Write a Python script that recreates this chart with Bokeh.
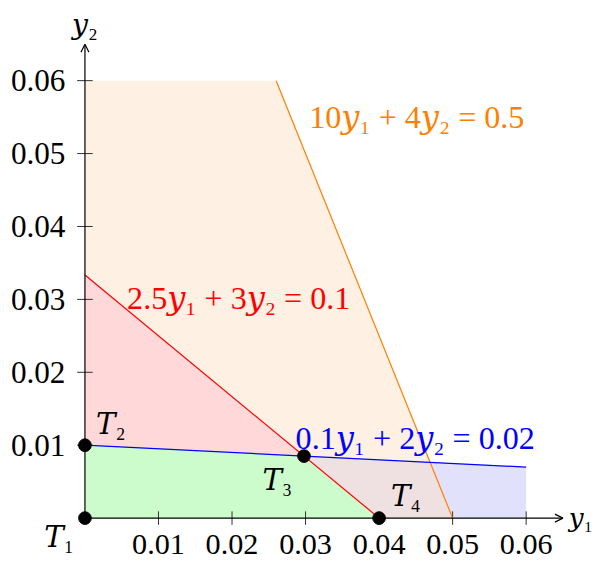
import numpy as np
from bokeh.plotting import figure
from bokeh.models import Arrow, OpenHead
from bokeh.core.properties import value
from bokeh.embed import file_html
from bokeh.resources import INLINE

# ---- data ----
coef_y1 = [10, 2.5, 0.1]
coef_y2 = [4, 3, 2]
rhs = [0.5, 0.1, 0.02]
line_colors = ["#ff8000", "#ff0000", "#0000ff"]
eq_labels = ["10𝑦₁ + 4𝑦₂ = 0.5", "2.5𝑦₁ + 3𝑦₂ = 0.1", "0.1𝑦₁ + 2𝑦₂ = 0.02"]
y1_max = 0.06
y2_max = 0.06
tick_values = [0.01, 0.02, 0.03, 0.04, 0.05, 0.06]
tick_labels = ["0.01", "0.02", "0.03", "0.04", "0.05", "0.06"]
point_names = ["𝑇₁", "𝑇₂", "𝑇₃", "𝑇₄"]
axis_names = ["𝑦₁", "𝑦₂"]
axis_end = 0.065


def y2_at(i, x):
    return (rhs[i] - coef_y1[i] * x) / coef_y2[i]


def y1_at(i, y):
    return (rhs[i] - coef_y2[i] * y) / coef_y1[i]


def meet(i, j):
    A = np.array([[coef_y1[i], coef_y2[i]], [coef_y1[j], coef_y2[j]]])
    return np.linalg.solve(A, np.array([rhs[i], rhs[j]]))


T3 = meet(1, 2)
Q = meet(0, 2)

# reference-pixel geometry (reference image 615 x 579)
PX = 1.0 / 7550.0
X0 = 86.7
Y0 = 536.0
REF_W, REF_H = 615, 583
W, H = 599, 563
S = W / REF_W
x_range = ((0 - X0) * PX, (REF_W - X0) * PX)
y_range = ((Y0 - REF_H) * PX, (Y0 - 0) * PX)

p = figure(width=W, height=H, x_range=x_range, y_range=y_range,
           output_backend="svg", toolbar_location=None, min_border=0,
           x_axis_location=None, y_axis_location=None)
p.grid.visible = False
p.outline_line_color = None
p.background_fill_color = "white"

FONT = value("'Liberation Serif', 'DejaVu Serif', serif")


def fs(px):
    return f"{px * S:.1f}px"


# ---- fills ----
p.patch([0, y1_at(0, 0), y1_at(0, y2_max), 0], [0, 0, y2_max, y2_max],
        fill_color="#fef0e2", line_color=None)
p.patch([0, y1_at(1, 0), 0], [0, 0, y2_at(1, 0)],
        fill_color="#ffd9d9", line_color=None)
p.patch([0, 0, T3[0], y1_at(1, 0)], [0, y2_at(2, 0), T3[1], 0],
        fill_color="#ccfccc", line_color=None)
p.patch([T3[0], y1_at(1, 0), y1_at(0, 0), Q[0]], [T3[1], 0, 0, Q[1]],
        fill_color="#efe1e1", line_color=None)
p.patch([y1_at(0, 0), y1_max, y1_max, Q[0]], [0, 0, y2_at(2, y1_max), Q[1]],
        fill_color="#e1e1fb", line_color=None)

# ---- axes ----
n = len(tick_values)
p.segment(x0=tick_values, y0=[-7 * PX] * n, x1=tick_values, y1=[7 * PX] * n,
          line_color="#333333", line_width=1)
p.segment(x0=[-8 * PX] * n, y0=tick_values, x1=[8 * PX] * n, y1=tick_values,
          line_color="#333333", line_width=1)
p.add_layout(Arrow(x_start=0, y_start=0, x_end=axis_end, y_end=0,
                   line_color="black", line_width=1.2,
                   end=OpenHead(size=8, line_width=1.2, line_color="black")))
p.add_layout(Arrow(x_start=0, y_start=0, x_end=0, y_end=axis_end,
                   line_color="black", line_width=1.2,
                   end=OpenHead(size=8, line_width=1.2, line_color="black")))

p.text(x=tick_values, y=[-27.5 * PX] * n, text=tick_labels, text_font=FONT,
       text_font_size=fs(31), text_align="center", text_baseline="middle",
       text_color="black")
p.text(x=[-20 * PX] * n, y=tick_values, text=tick_labels, text_font=FONT,
       text_font_size=fs(32), text_align="right", text_baseline="middle",
       text_color="black")
p.text(x=[axis_end + 6 * PX], y=[0], text=axis_names[:1],
       text_font=FONT, text_font_size=fs(27), text_align="left",
       text_baseline="middle", text_color="black")
p.text(x=[0], y=[axis_end + 20 * PX], text=axis_names[1:],
       text_font=FONT, text_font_size=fs(29), text_align="center",
       text_baseline="middle", text_color="black")

# ---- constraint lines ----
p.line([y1_at(0, y2_max), y1_at(0, 0)], [y2_max, 0], line_color=line_colors[0], line_width=1.2)
p.line([0, y1_at(1, 0)], [y2_at(1, 0), 0], line_color=line_colors[1], line_width=1.2)
p.line([0, y1_max], [y2_at(2, 0), y2_at(2, y1_max)], line_color=line_colors[2], line_width=1.2)

# ---- equation labels ----
eq_x = [(317 - X0) * PX, (130 - X0) * PX, (303 - X0) * PX]
eq_y = [(Y0 - 121) * PX, (Y0 - 308) * PX, (Y0 - 453) * PX]
p.text(x=eq_x, y=eq_y, text=eq_labels, text_font=FONT, text_font_size=fs(33),
       text_align="left", text_baseline="middle", text_color=line_colors)

# ---- vertices ----
pts_x = [0, 0, T3[0], y1_at(1, 0)]
pts_y = [0, y2_at(2, 0), T3[1], 0]
p.scatter(pts_x, pts_y, size=13 * S, fill_color="black", line_color="black")
lab_x = [(45 - X0) * PX, (98 - X0) * PX, (269 - X0) * PX, (401 - X0) * PX]
lab_y = [(Y0 - 556) * PX, (Y0 - 439) * PX, (Y0 - 497) * PX, (Y0 - 513) * PX]
p.text(x=lab_x, y=lab_y, text=point_names, text_font=FONT, text_font_size=fs(30),
       text_align="left", text_baseline="middle", text_color="black")

open("out.html", "w").write(file_html(p, INLINE))
